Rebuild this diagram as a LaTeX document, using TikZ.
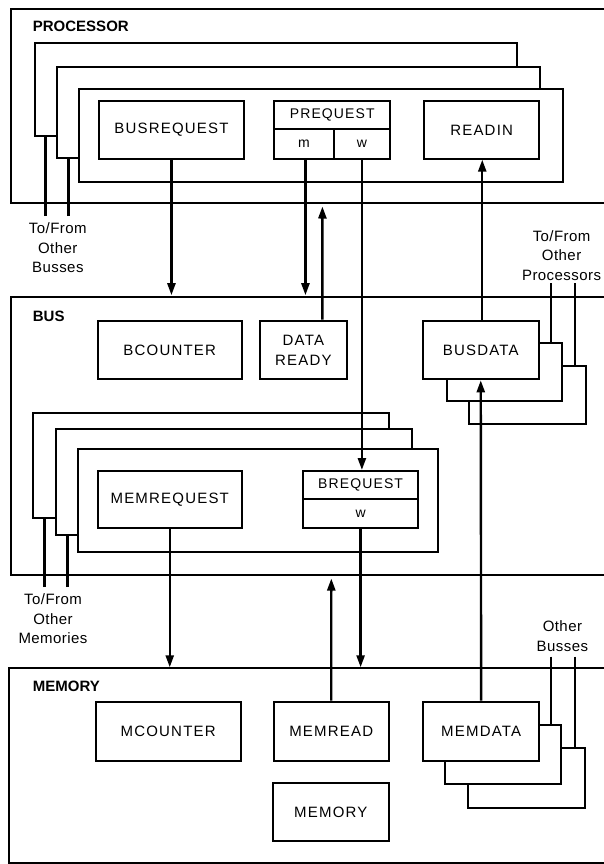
\documentclass[tikz,border=0pt]{standalone}
\usepackage{fontspec}
\setmainfont{Liberation Sans}
\newfontfamily\capsf[LetterSpace=8]{Liberation Sans}
\newfontfamily\lowsf[LetterSpace=3]{Liberation Sans}
\usetikzlibrary{arrows.meta}
\begin{document}
\begin{tikzpicture}[x=1pt,y=-1pt,
  frame/.style={line width=2pt},
  blk/.style={draw,line width=2pt,fill=white,inner sep=0pt,font=\capsf\fontsize{15}{20}\selectfont},
  cell/.style={draw,line width=2pt,fill=white,inner sep=0pt,font=\capsf\fontsize{14}{16}\selectfont},
  stackbox/.style={draw,line width=2pt,fill=white,inner sep=0pt},
  title/.style={font=\bfseries\fontsize{15}{17}\selectfont,anchor=west,inner sep=0pt},
  lbl/.style={font=\lowsf\fontsize{15}{19.5}\selectfont,align=center,inner sep=0pt},
  arr/.style={line width=2.4pt,-{Stealth[length=12pt,width=8pt,inset=0pt]}},
  wire/.style={line width=2.4pt}]
\useasboundingbox (0,0) rectangle (604,864);
\fill[white] (0,0) rectangle (604,864);

% ---------- outer frames ----------
\draw[frame] (605,9.3) -- (10.8,9.3) -- (10.8,202.7) -- (605,202.7);
\draw[frame] (605,296.7) -- (10.8,296.7) -- (10.8,575) -- (605,575);
\draw[frame] (605,668.3) -- (8.5,668.3) -- (8.5,862.5) -- (605,862.5);
\coordinate (procbot) at (0,202.7);
\coordinate (bustop) at (0,296.7);
\coordinate (busbot) at (0,575);
\coordinate (memtop) at (0,668.3);

\node[title] (tproc) at (32.7,26.7) {PROCESSOR};
\node[title] (tbus) at (32.7,316) {BUS};
\node[title] (tmem) at (32.7,686.7) {MEMORY};

% ---------- processor stack ----------
\node[stackbox,minimum width=482.3pt,minimum height=92.7pt] (pb1) at (275.85,89.65) {};
\node[stackbox,minimum width=483pt,minimum height=91pt] (pb2) at (298.5,112.2) {};
\node[stackbox,minimum width=484pt,minimum height=92.4pt] (pf) at (321,135.5) {};

\node[blk,minimum width=144.1pt,minimum height=57.7pt] (busreq) at (171.45,129.85) {BUSREQUEST};
\node[cell,minimum width=115.9pt,minimum height=28.3pt] (preq) at (332.25,114.85) {PREQUEST};
\node[cell,minimum width=59.3pt,minimum height=29.7pt] (preqm) at (303.95,143.85) {m};
\node[cell,minimum width=56.6pt,minimum height=29.7pt] (preqw) at (361.9,143.85) {w};
\node[blk,minimum width=115.3pt,minimum height=57.7pt] (readin) at (481.65,129.85) {READIN};

% ---------- bus ----------
\node[blk,minimum width=144.5pt,minimum height=58.6pt] (bcount) at (169.75,350) {BCOUNTER};
\node[blk,minimum width=86.7pt,minimum height=58.6pt,align=center] (dready) at (303.35,350) {DATA\\READY};

\node[stackbox,minimum width=116.3pt,minimum height=58pt] (bd2) at (527.35,395) {};
\node[stackbox,minimum width=115.6pt,minimum height=57.7pt] (bd1) at (504.6,372.15) {};
\node[blk,minimum width=115.5pt,minimum height=58.6pt] (busdata) at (480.75,350) {BUSDATA};

\node[stackbox,minimum width=356.3pt,minimum height=105pt] (bb1) at (210.85,465.2) {};
\node[stackbox,minimum width=356.3pt,minimum height=105.7pt] (bb2) at (234.05,482.15) {};
\node[stackbox,minimum width=360.2pt,minimum height=103pt] (bf) at (258.3,500.8) {};

\node[blk,minimum width=144.5pt,minimum height=57.3pt] (memreq) at (169.75,499.65) {MEMREQUEST};
\node[cell,minimum width=114.8pt,minimum height=28.3pt] (breq) at (360.6,485.15) {BREQUEST};
\node[cell,minimum width=114.8pt,minimum height=29pt] (breqw) at (360.6,513.8) {w};

% ---------- memory ----------
\node[blk,minimum width=145.3pt,minimum height=59.3pt] (mcount) at (168.15,731.35) {MCOUNTER};
\node[blk,minimum width=115.5pt,minimum height=59.3pt] (memread) at (331.25,731.35) {MEMREAD};
\node[stackbox,minimum width=116.7pt,minimum height=59.4pt] (md2) at (526.35,778) {};
\node[stackbox,minimum width=115.5pt,minimum height=59pt] (md1) at (502.75,754.5) {};
\node[blk,minimum width=116.3pt,minimum height=59.3pt] (memdata) at (481.15,731.35) {MEMDATA};
\node[blk,minimum width=116.3pt,minimum height=58.3pt] (memory) at (330.85,811.85) {MEMORY};

% ---------- side labels ----------
\node[lbl] (lbusses) at (57.8,248) {To/From\\Other\\Busses};
\node[lbl] (lprocs) at (561.6,255.5) {To/From\\Other\\Processors};
\node[lbl] (lmems) at (53,619) {To/From\\Other\\Memories};
\node[lbl] (lobus) at (562.4,636.3) {Other\\Busses};

\coordinate (e1) at (45.5,216);
\coordinate (e2) at (68.6,216);
\coordinate (e3) at (44.3,587);
\coordinate (e4) at (67.4,587);
\coordinate (e5) at (551,283);
\coordinate (e6) at (574.7,283);
\coordinate (e7) at (551,656.7);
\coordinate (e8) at (574.7,656.7);

\draw[wire] (e1) -- (e1 |- pb1.south);
\draw[wire] (e2) -- (e2 |- pb2.south);
\draw[wire] (e3) -- (e3 |- bb1.south);
\draw[wire] (e4) -- (e4 |- bb2.south);
\draw[wire] (e5) -- (e5 |- bd1.north);
\draw[wire] (e6) -- (e6 |- bd2.north);
\draw[wire] (e7) -- (e7 |- md1.north);
\draw[wire] (e8) -- (e8 |- md2.north);

% ---------- connectors ----------
\coordinate (drtip) at (322.4,206.5);
\coordinate (mrtip) at (331.3,578.5);
\draw[arr] (busreq.south) -- ([yshift=1.5pt]busreq.south |- bustop);
\draw[arr] ([xshift=1.5pt]preqm.south) -- ([xshift=1.5pt,yshift=1.5pt]preqm.south |- bustop);
\draw[arr] ([xshift=19pt]dready.north) -- (drtip);
\draw[arr] (preqw.south) -- (preqw.south |- breq.north);
\draw[arr] ([xshift=1.5pt]busdata.north) -- ([xshift=1.5pt]busdata.north |- readin.south);
\draw[arr] (memreq.south) -- ([yshift=1pt]memreq.south |- memtop);
\draw[arr] (breqw.south) -- ([yshift=1pt]breqw.south |- memtop);
\draw[arr] (memread.north) -- (mrtip);
\draw[arr] (memdata.north) -- (busdata.south);
\end{tikzpicture}
\end{document}
